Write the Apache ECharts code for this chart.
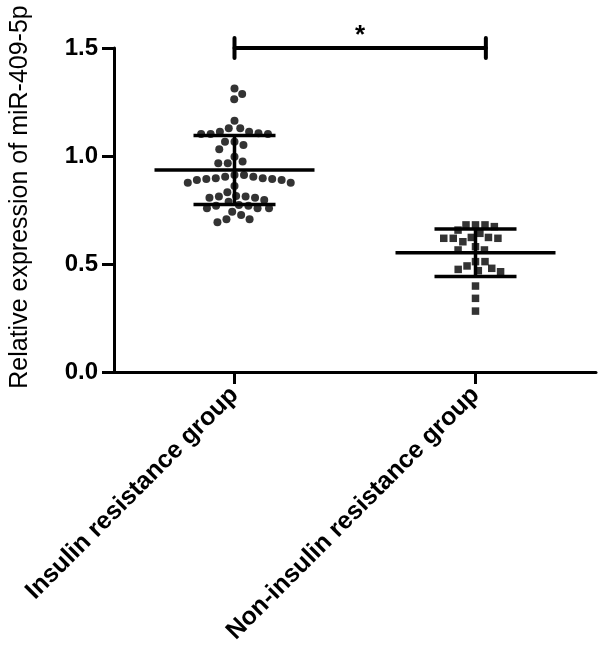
<!DOCTYPE html>
<html>
<head>
<meta charset="utf-8">
<script src="https://cdn.jsdelivr.net/npm/echarts@6/dist/echarts.min.js"></script>
<style>
html,body{margin:0;padding:0;background:#fff;}
#chart{width:602px;height:653px;}
</style>
</head>
<body>
<div id="chart"></div>
<script>
// ---- data ----
const categories = ['Insulin resistance group', 'Non-insulin resistance group'];
const insulinResistance = [
  1.313, 1.287, 1.263, 1.163,
  1.128, 1.128, 1.112, 1.112, 1.105, 1.102, 1.102, 1.102,
  1.066, 1.066, 1.051, 1.031, 0.997, 0.974, 0.966, 0.966,
  0.912, 0.912, 0.904, 0.904, 0.897, 0.897, 0.894, 0.894, 0.889, 0.889, 0.876, 0.876,
  0.861,
  0.832, 0.815, 0.812, 0.812, 0.807, 0.807, 0.796, 0.788,
  0.773, 0.770, 0.770, 0.758, 0.758, 0.758,
  0.742, 0.727,
  0.707, 0.707, 0.693
];
const nonInsulinResistance = [
  0.681, 0.681, 0.681, 0.673, 0.657,
  0.642, 0.623, 0.623, 0.619, 0.619, 0.619, 0.603, 0.580,
  0.565, 0.565,
  0.511, 0.511,
  0.491, 0.480, 0.475, 0.469, 0.464,
  0.398, 0.341, 0.282
];
const groupMeans = [0.935, 0.552];
const groupSDs = [0.160, 0.110];
const yTickValues = [0, 0.5, 1.0, 1.5];
const comparisonSpan = [1, 2.043];
const comparisonLevel = 1.5;
const significanceLabel = '*';
const yAxisTitle = 'Relative expression of miR-409-5p';

// ---- chart ----
const FONT = 'Liberation Sans, Arial, sans-serif';
const chart = echarts.init(document.getElementById('chart'), null, {renderer: 'canvas'});

const baseOption = {
  animation: false,
  backgroundColor: '#fff',
  grid: {left: 114, right: 6, top: 48, bottom: 281, containLabel: false},
  xAxis: {
    type: 'value', min: 0.5, max: 2.5,
    splitLine: {show: false},
    axisLine: {show: true, onZero: false, lineStyle: {color: '#000', width: 3}},
    axisTick: {show: true, customValues: [1, 2], length: 12, lineStyle: {color: '#000', width: 3}},
    axisLabel: {
      show: true, customValues: [1, 2], rotate: 45, margin: 19,
      formatter: v => categories[Math.round(v) - 1] || '',
      color: '#000', fontSize: 25, fontWeight: 'bold', fontFamily: FONT
    }
  },
  yAxis: {
    type: 'value', min: yTickValues[0], max: yTickValues[yTickValues.length - 1], interval: 0.5,
    splitLine: {show: false},
    axisLine: {show: true, lineStyle: {color: '#000', width: 3}},
    axisTick: {show: true, length: 12, lineStyle: {color: '#000', width: 3}},
    axisLabel: {
      formatter: v => v.toFixed(1), margin: 16,
      color: '#000', fontSize: 24, fontWeight: 'bold', fontFamily: FONT
    }
  },
  graphic: [{
    type: 'text', x: 20, y: 197, rotation: Math.PI / 2,
    style: {text: yAxisTitle, fill: '#000', fontSize: 25, fontFamily: FONT, align: 'center', verticalAlign: 'middle'}
  }],
  series: []
};
chart.setOption(baseOption);

// beeswarm placement computed from values through the axis scales
function swarm(values, center, diameter) {
  const sorted = values.slice().sort((a, b) => b - a);
  const p0 = chart.convertToPixel({gridIndex: 0}, [center, 0]);
  const p1 = chart.convertToPixel({gridIndex: 0}, [center + 1, 0]);
  const pxPerUnit = p1[0] - p0[0];
  const placed = [];
  let side = 1;
  sorted.forEach(v => {
    const py = chart.convertToPixel({gridIndex: 0}, [center, v])[1];
    const cands = [0];
    placed.forEach(p => {
      const dy = Math.abs(py - p.py);
      if (dy < diameter) {
        const dx = Math.sqrt(diameter * diameter - dy * dy);
        cands.push(p.x + dx, p.x - dx);
      }
    });
    const ok = cands.filter(x => placed.every(p => {
      const dx = x - p.x, dy = py - p.py;
      return dx * dx + dy * dy >= diameter * diameter - 1e-6;
    }));
    ok.sort((a, b) => Math.abs(a) - Math.abs(b) || (b * side - a * side));
    const x = ok[0];
    if (x !== 0) side = -Math.sign(x);
    placed.push({x: x, py: py, v: v});
  });
  return placed.map(p => [center + p.x / pxPerUnit, p.v]);
}

const black = '#000';
function renderErrorBar(params, api) {
  const x = api.value(0), m = api.value(1), s = api.value(2);
  const c = api.coord([x, m]);
  const t = api.coord([x, m + s]);
  const b = api.coord([x, m - s]);
  const st = {stroke: black, lineWidth: 3.5, fill: null};
  return {type: 'group', children: [
    {type: 'line', shape: {x1: c[0] - 80, y1: c[1], x2: c[0] + 80, y2: c[1]}, style: st},
    {type: 'line', shape: {x1: c[0], y1: t[1], x2: c[0], y2: b[1]}, style: st},
    {type: 'line', shape: {x1: c[0] - 41, y1: t[1], x2: c[0] + 41, y2: t[1]}, style: st},
    {type: 'line', shape: {x1: c[0] - 41, y1: b[1], x2: c[0] + 41, y2: b[1]}, style: st}
  ]};
}
function renderBracket(params, api) {
  const a = api.coord([api.value(0), api.value(2)]);
  const b = api.coord([api.value(1), api.value(2)]);
  const st = {stroke: black, lineWidth: 4, lineCap: 'round', fill: null};
  return {type: 'group', children: [
    {type: 'line', shape: {x1: a[0], y1: a[1], x2: b[0], y2: b[1]}, style: st},
    {type: 'line', shape: {x1: a[0], y1: a[1] - 10, x2: a[0], y2: a[1] + 10}, style: st},
    {type: 'line', shape: {x1: b[0], y1: b[1] - 10, x2: b[0], y2: b[1] + 10}, style: st},
    {type: 'text', style: {text: significanceLabel, x: (a[0] + b[0]) / 2, y: a[1] - 12,
      align: 'center', verticalAlign: 'middle', fill: black, fontSize: 26, fontWeight: 'bold', fontFamily: FONT}}
  ]};
}

chart.setOption({
  series: [
    {type: 'scatter', name: categories[0], data: swarm(insulinResistance, 1, 9.5),
      symbol: 'circle', symbolSize: 8, itemStyle: {color: black}, z: 2},
    {type: 'scatter', name: categories[1], data: swarm(nonInsulinResistance, 2, 9.5),
      symbol: 'rect', symbolSize: 7.5, itemStyle: {color: black}, z: 2},
    {type: 'custom', name: 'mean ± SD', renderItem: renderErrorBar, clip: false, z: 3,
      encode: {x: 0, y: 1},
      data: categories.map((c, i) => [i + 1, groupMeans[i], groupSDs[i]])},
    {type: 'custom', name: 'significance', renderItem: renderBracket, clip: false, z: 3,
      encode: {x: 0, y: 2},
      data: [[comparisonSpan[0], comparisonSpan[1], comparisonLevel]]}
  ]
});
</script>
</body>
</html>
